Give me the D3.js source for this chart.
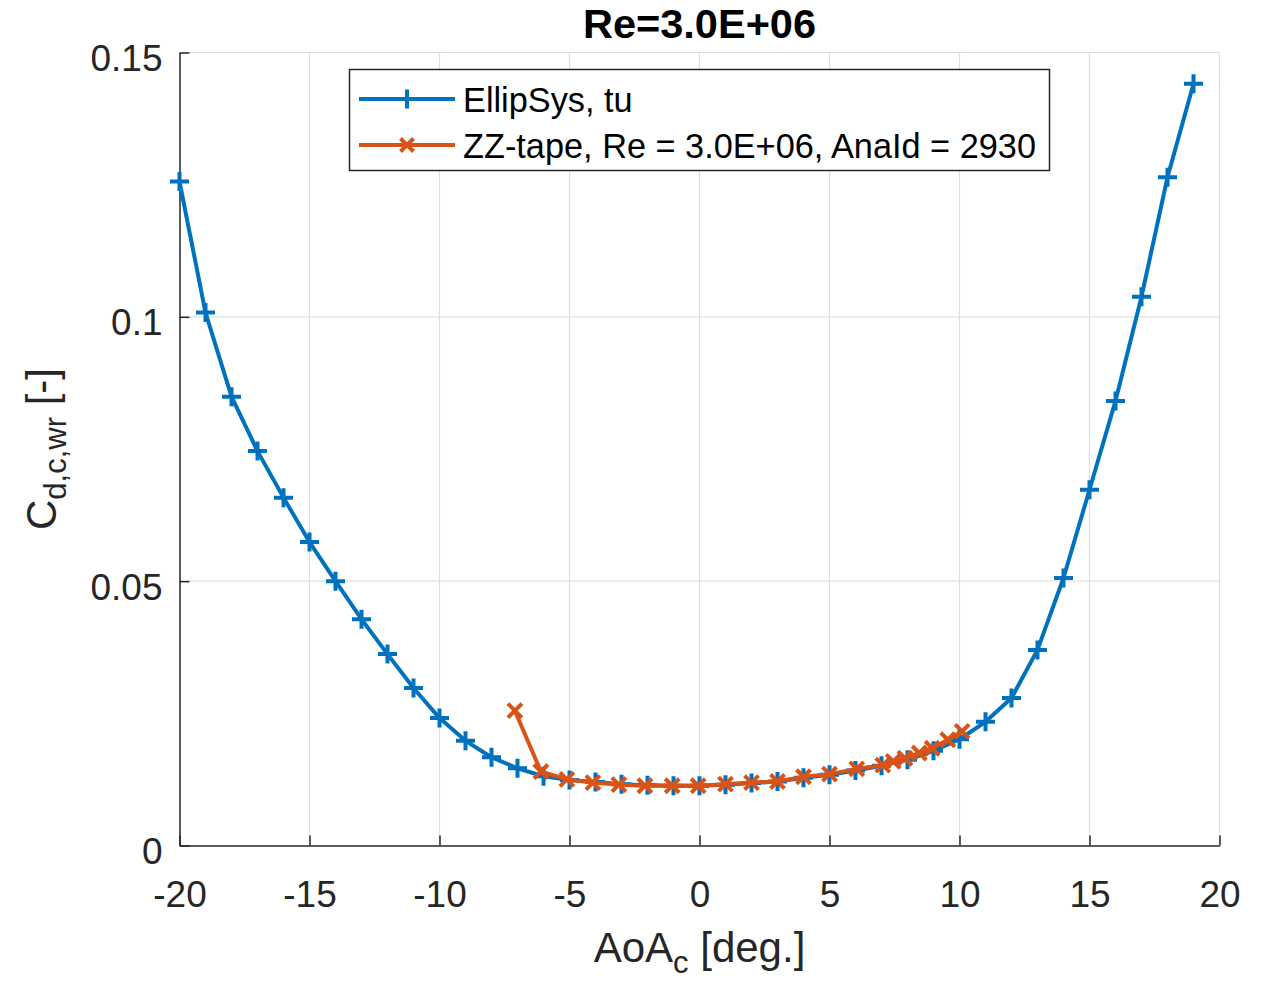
<!DOCTYPE html>
<html>
<head>
<meta charset="utf-8">
<script src="https://cdn.jsdelivr.net/npm/d3@7"></script>
<style>
  body { margin: 0; background: #fff; }
  text { font-family: "Liberation Sans", Arial, sans-serif; fill: #262626; }
</style>
</head>
<body>
<div class="content"></div>
<script>
const [svgWidth, svgHeight] = [1265, 983];

// blue series: EllipSys, tu
const ellipAoa = d3.range(-20, 20);
const ellipCd = [
  0.1256, 0.1008, 0.0849, 0.0746, 0.0658, 0.0574, 0.0500, 0.0428, 0.0362, 0.0298,
  0.0241, 0.0198, 0.0167, 0.0146, 0.0131, 0.0124, 0.0120, 0.0116, 0.0114, 0.0113,
  0.0113, 0.0115, 0.0118, 0.0121, 0.0128, 0.0134, 0.0142, 0.0151, 0.0162, 0.0179,
  0.0201, 0.0234, 0.0279, 0.0370, 0.0506, 0.0673, 0.0841, 0.1038, 0.1264, 0.1441
];

// orange series: ZZ-tape
const zzAoa = [-7.1, -6.1, -5.1, -4.1, -3.1, -2.1, -1.05, -0.05, 1.0, 2.0, 3.0,
  4.0, 5.0, 6.05, 7.05, 7.45, 7.9, 8.45, 8.95, 9.55, 10.1];
const zzCd = [0.0255, 0.0140, 0.0125, 0.0119, 0.0115, 0.0113, 0.0113, 0.0113, 0.0116,
  0.0119, 0.0121, 0.0130, 0.0135, 0.0145, 0.0152, 0.0159, 0.0165, 0.0175, 0.0184,
  0.0200, 0.0216];

const xTicks = [-20, -15, -10, -5, 0, 5, 10, 15, 20];
const yTicks = [0, 0.05, 0.1, 0.15];
const legendLabels = ['EllipSys, tu', 'ZZ-tape, Re = 3.0E+06, AnaId = 2930'];

const axisCol = '#262626';
const blue = '#0072BD', orange = '#D95319';
const m = {left: 179.5, right: 1219.5, top: 52.5, bottom: 845.5};

const svg = d3.select('.content')
  .append('svg')
  .attr('width', svgWidth)
  .attr('height', svgHeight);

const x = d3.scaleLinear().domain([-20, 20]).range([m.left, m.right]);
const y = d3.scaleLinear().domain([0, 0.15]).range([m.bottom, m.top]);

// grid
svg.append('g').selectAll('line.gx')
  .data(xTicks.slice(1))
  .enter().append('line')
  .attr('x1', d => x(d)).attr('x2', d => x(d))
  .attr('y1', m.top).attr('y2', m.bottom)
  .attr('stroke', '#dfdfdf').attr('stroke-width', 1.2);
svg.append('g').selectAll('line.gy')
  .data(yTicks.slice(1))
  .enter().append('line')
  .attr('x1', m.left).attr('x2', m.right)
  .attr('y1', d => y(d)).attr('y2', d => y(d))
  .attr('stroke', '#dfdfdf').attr('stroke-width', 1.2);

// axes (ticks inward)
const xAxis = d3.axisBottom(x).tickValues(xTicks).tickSize(-10).tickSizeOuter(0)
  .tickFormat(d => String(d));
const gx = svg.append('g')
  .attr('transform', `translate(0,${m.bottom})`)
  .call(xAxis);
gx.selectAll('text').attr('font-size', 37).attr('dy', 0).attr('y', 61)
  .attr('fill', axisCol).style('font-family', '"Liberation Sans", Arial, sans-serif');

const yAxis = d3.axisLeft(y).tickValues(yTicks).tickSize(-10).tickSizeOuter(0)
  .tickFormat(d => d === 0 ? '0' : String(d));
const gy = svg.append('g')
  .attr('transform', `translate(${m.left},0)`)
  .call(yAxis);
gy.selectAll('text').attr('font-size', 37).attr('x', -17).attr('dy', 0).attr('y', 18)
  .attr('fill', axisCol).style('font-family', '"Liberation Sans", Arial, sans-serif');

[gx, gy].forEach(g => {
  g.select('.domain').attr('stroke', axisCol).attr('stroke-width', 1.5);
  g.selectAll('.tick line').attr('stroke', axisCol).attr('stroke-width', 1.5);
});

// lines
const line = d3.line().x(d => x(d[0])).y(d => y(d[1]));
const ellip = ellipAoa.map((a, i) => [a, ellipCd[i]]);
const zz = zzAoa.map((a, i) => [a, zzCd[i]]);

const plusPath = s => `M${-s},0H${s}M0,${-s}V${s}`;
const crossPath = s => `M${-s},${-s}L${s},${s}M${-s},${s}L${s},${-s}`;

svg.append('path').datum(ellip)
  .attr('d', line).attr('fill', 'none')
  .attr('stroke', blue).attr('stroke-width', 4).attr('stroke-linejoin', 'round');
svg.append('g').selectAll('path')
  .data(ellip).enter().append('path')
  .attr('transform', d => `translate(${x(d[0])},${y(d[1])})`)
  .attr('d', plusPath(9.5))
  .attr('stroke', blue).attr('stroke-width', 4).attr('fill', 'none');

svg.append('path').datum(zz)
  .attr('d', line).attr('fill', 'none')
  .attr('stroke', orange).attr('stroke-width', 4).attr('stroke-linejoin', 'round');
svg.append('g').selectAll('path')
  .data(zz).enter().append('path')
  .attr('transform', d => `translate(${x(d[0])},${y(d[1])})`)
  .attr('d', crossPath(7))
  .attr('stroke', orange).attr('stroke-width', 4).attr('fill', 'none');

// title
svg.append('text')
  .attr('x', (m.left + m.right) / 2).attr('y', 38)
  .attr('text-anchor', 'middle')
  .attr('font-size', 41.5).attr('font-weight', 'bold')
  .style('fill', '#000')
  .text('Re=3.0E+06');

// x label
const xl = svg.append('text')
  .attr('x', (m.left + m.right) / 2).attr('y', 962)
  .attr('text-anchor', 'middle').attr('font-size', 42);
xl.append('tspan').text('AoA');
xl.append('tspan').attr('dy', 11).attr('font-size', 31).text('c');
xl.append('tspan').attr('dy', -11).text(' [deg.]');

// y label
const yl = svg.append('text')
  .attr('transform', `translate(56,${(m.top + m.bottom) / 2}) rotate(-90)`)
  .attr('text-anchor', 'middle').attr('font-size', 42);
yl.append('tspan').text('C');
yl.append('tspan').attr('dy', 10).attr('font-size', 31).text('d,c,wr');
yl.append('tspan').attr('dy', -10).text(' [-]');

// legend
const lg = svg.append('g');
lg.append('rect')
  .attr('x', 349.5).attr('y', 69.5).attr('width', 700).attr('height', 101)
  .attr('fill', '#fff').attr('stroke', axisCol).attr('stroke-width', 1.5);
const items = [
  {label: legendLabels[0], color: blue, marker: plusPath(9.5)},
  {label: legendLabels[1], color: orange, marker: crossPath(6.5)}
];
const li = lg.selectAll('g.item').data(items).enter().append('g')
  .attr('transform', (d, i) => `translate(0,${99 + 46 * i})`);
li.append('line').attr('x1', 359).attr('x2', 455)
  .attr('stroke', d => d.color).attr('stroke-width', 4);
li.append('path').attr('transform', 'translate(407,0)')
  .attr('d', d => d.marker)
  .attr('stroke', d => d.color).attr('stroke-width', 4).attr('fill', 'none');
li.append('text').attr('x', 463).attr('y', 13)
  .attr('font-size', 34.3).style('fill', '#000')
  .text(d => d.label);
</script>
</body>
</html>
